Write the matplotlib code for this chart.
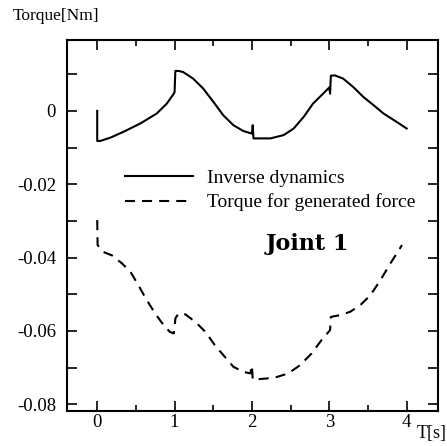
import matplotlib
matplotlib.use("Agg")
import matplotlib.pyplot as plt
from matplotlib.ticker import MultipleLocator, FuncFormatter

plt.rcParams['font.family'] = ['Liberation Serif', 'DejaVu Serif']
plt.rcParams['axes.unicode_minus'] = False

# Inverse dynamics (solid)
t_inv = [0, 0, 0.04, 0.17, 0.34, 0.56, 0.77, 0.90, 0.99, 1.00, 1.01, 1.05,
         1.11, 1.24, 1.37, 1.50, 1.63, 1.76, 1.89, 2.00, 2.01, 2.02, 2.04,
         2.24, 2.41, 2.54, 2.67, 2.79, 2.92, 3.00, 3.01, 3.02, 3.07, 3.18,
         3.31, 3.44, 3.57, 3.70, 3.87, 4.00]
tq_inv = [0, -0.0082, -0.0082, -0.0073, -0.0057, -0.0034, -0.0007, 0.0020,
          0.0047, 0.0052, 0.0109, 0.0109, 0.0106, 0.0088, 0.0061, 0.0025,
          -0.0012, -0.0039, -0.0055, -0.0062, -0.0039, -0.0075, -0.0075,
          -0.0075, -0.0066, -0.0048, -0.0016, 0.0020, 0.0047, 0.0064,
          0.0047, 0.0096, 0.0097, 0.0088, 0.0065, 0.0038, 0.0016, -0.0007,
          -0.0030, -0.0048]

# Torque for generated force (dashed)
t_gen = [0, 0.005, 0.08, 0.19, 0.32, 0.43, 0.53, 0.64, 0.75, 0.86, 0.94,
         0.99, 1.00, 1.01, 1.05, 1.14, 1.27, 1.40, 1.52, 1.65, 1.76, 1.89,
         1.98, 2.00, 2.01, 2.19, 2.32, 2.47, 2.62, 2.77, 2.90, 3.01, 3.02,
         3.14, 3.27, 3.40, 3.53, 3.66, 3.79, 3.94]
tq_gen = [-0.0298, -0.0366, -0.0385, -0.0394, -0.0416, -0.0439, -0.0475,
          -0.0516, -0.0553, -0.0585, -0.0603, -0.0607, -0.0594, -0.0566,
          -0.0553, -0.0555, -0.0576, -0.0603, -0.0639, -0.0671, -0.0698,
          -0.0712, -0.0716, -0.0694, -0.0733, -0.0730, -0.0726, -0.0716,
          -0.0694, -0.0662, -0.0625, -0.0598, -0.0562, -0.0557, -0.0548,
          -0.0530, -0.0503, -0.0462, -0.0416, -0.0366]

labels = ["Inverse dynamics", "Torque for generated force"]


def fmt_y(v, pos):
    # label only every 0.02
    k = int(round(v / 0.01))
    if k % 2 != 0:
        return ""
    if k == 0:
        return "0"
    return "%.2f" % (k * 0.01)


def main():
    fig = plt.figure(figsize=(4.47, 4.46), dpi=100)
    ax = fig.add_axes([0.150, 0.079, 0.829, 0.831])

    ax.plot(t_inv, tq_inv, color="black", lw=1.5, label=labels[0])
    ax.plot(t_gen, tq_gen, color="black", lw=1.5, dashes=(4.8, 3.4),
            label=labels[1])

    ax.set_xlim(-0.39, 4.40)
    ax.set_ylim(-0.0818, 0.0193)

    ax.xaxis.set_major_locator(MultipleLocator(1))
    ax.xaxis.set_minor_locator(MultipleLocator(0.5))
    ax.yaxis.set_major_locator(MultipleLocator(0.01))
    ax.yaxis.set_major_formatter(FuncFormatter(fmt_y))

    ax.tick_params(which="both", direction="in", top=True, right=True,
                   width=1.2, labelsize=13.5)
    ax.tick_params(axis="y", which="major", length=7, pad=8)
    ax.tick_params(axis="x", which="major", length=7, pad=2)
    ax.tick_params(axis="x", which="minor", length=4)
    for s in ax.spines.values():
        s.set_linewidth(1.5)

    ax.legend(loc="upper left", bbox_to_anchor=(0.156, 0.652), frameon=False,
              fontsize=14, handlelength=3.5, handletextpad=0.75,
              borderpad=0, borderaxespad=0, labelspacing=0.35)

    ax.text(0.535, 0.434, "Joint 1", transform=ax.transAxes,
            fontsize=16, fontweight="bold", family="DejaVu Serif")

    fig.text(0.028, 0.965, "Torque[Nm]", fontsize=12.5, va="center")
    fig.text(0.932, 0.028, "T[s]", fontsize=13, va="center")

    fig.savefig("out.png", dpi=100)


if __name__ == "__main__":
    main()
